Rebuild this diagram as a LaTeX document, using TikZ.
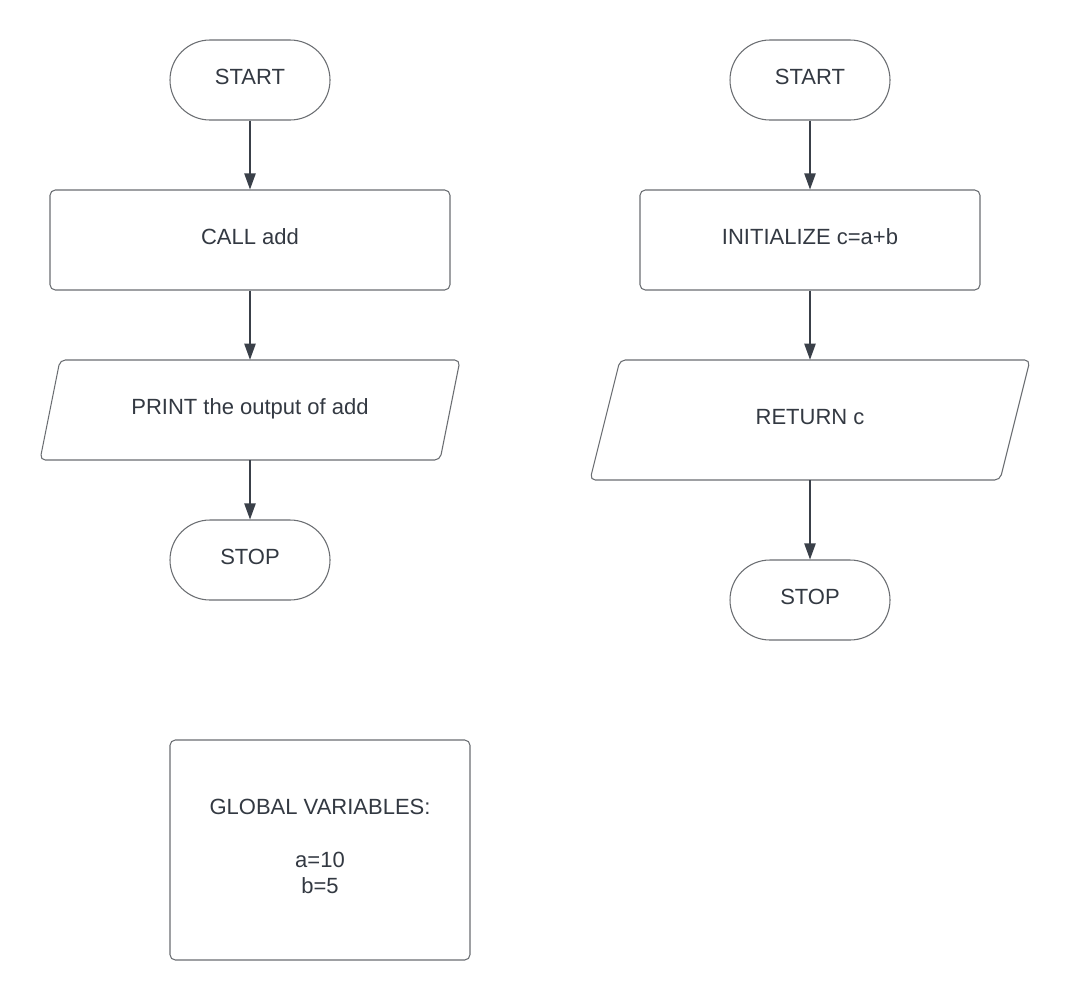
\documentclass[tikz,border=0pt]{standalone}
\usepackage{fontspec}
\setmainfont{Liberation Sans}
\usetikzlibrary{arrows.meta}
\definecolor{shapeline}{HTML}{6B6E72}
\definecolor{arrowcol}{HTML}{3A4049}
\definecolor{textcol}{HTML}{333942}
\tikzset{
  x=0.75pt, y=-0.75pt,
  base/.style={font=\fontsize{16.5}{19.5}\selectfont, text=textcol, align=center, inner sep=0pt},
  oneline/.style={base, text height=11.8pt, text depth=4.5pt},
  terminal/.style={oneline, draw=shapeline, line width=0.8pt, rounded corners=30pt, minimum width=120pt, minimum height=60pt},
  procbox/.style={oneline, draw=shapeline, line width=0.8pt, rounded corners=4pt, minimum height=75pt},
  framebox/.style={draw=shapeline, line width=0.8pt, rounded corners=4pt, inner sep=0pt},
  iolabel/.style={oneline, minimum height=75pt, minimum width=10pt},
  iobox/.style={draw=shapeline, line width=0.8pt, rounded corners=4pt},
  flow/.style={draw=arrowcol, line width=0.9pt, -{Triangle[length=12pt,width=8.5pt]}}
}
\begin{document}
\begin{tikzpicture}
\useasboundingbox[fill=white] (0,0) rectangle (1070,1000);
% left flowchart
\node[terminal] (s1) at (250,80) {START};
\node[procbox, minimum width=300pt] (call) at (250,240) {CALL add};
\draw[iobox] (60,360) -- (460,360) -- (440,460) -- (40,460) -- cycle;
\node[iolabel] (print) at (250,410) {PRINT the output of add};
\node[terminal] (e1) at (250,560) {STOP};
\draw[flow] (s1.south) -- (call.north);
\draw[flow] (call.south) -- (print.north);
\draw[flow] (print.south) -- (e1.north);
% right flowchart
\node[terminal] (s2) at (810,80) {START};
\node[procbox, minimum width=255pt] (init) at (810,240) {INITIALIZE c=a+b};
\draw[iobox] (620,360) -- (1030,360) -- (1000,480) -- (590,480) -- cycle;
\node[iolabel, minimum height=90pt] (ret) at (810,420) {RETURN c};
\node[terminal] (e2) at (810,600) {STOP};
\draw[flow] (s2.south) -- (init.north);
\draw[flow] (init.south) -- (ret.north);
\draw[flow] (ret.south) -- (e2.north);
% global variables
\node[framebox, minimum width=225pt, minimum height=165pt] (glob) at (320,850) {};
\node[base] (globtxt) at (320,846) {GLOBAL VARIABLES:\\[20.25pt] a=10\\ b=5};
\end{tikzpicture}
\end{document}
